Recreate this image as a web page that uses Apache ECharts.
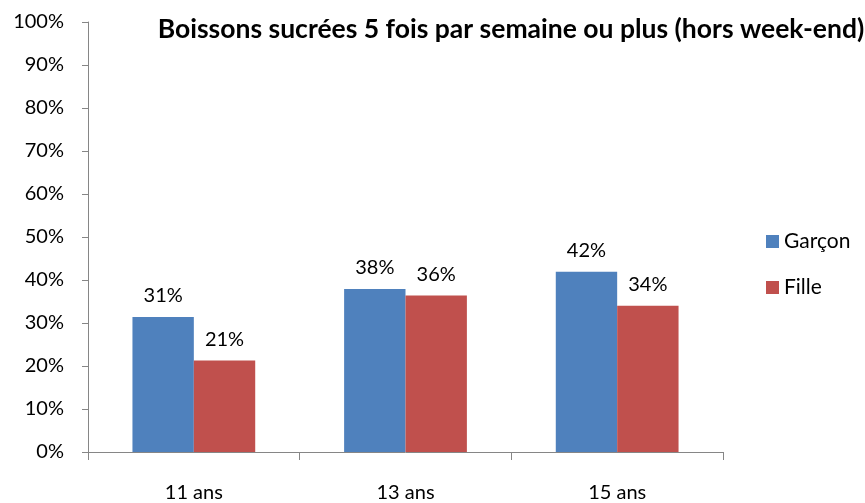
<!DOCTYPE html>
<html><head><meta charset="utf-8">
<script src="https://cdn.jsdelivr.net/npm/echarts@6/dist/echarts.min.js"></script>
<style>html,body{margin:0;padding:0;background:#fff}#c{width:865px;height:503px}</style>
</head><body><div id="c"></div>
<script>
const categories = ['11 ans', '13 ans', '15 ans'];
const garcon = [31.4, 37.9, 41.9];
const fille = [21.3, 36.4, 34.0];
const seriesNames = ['Garçon', 'Fille'];
const titleText = 'Boissons sucrées 5 fois par semaine ou plus (hors week-end)';

const font = 'Lato, "Open Sans", sans-serif';
const chart = echarts.init(document.getElementById('c'));
const lbl = {show: true, position: 'top', distance: 11, color: '#000', fontSize: 20, fontFamily: font,
  formatter: p => Math.round(p.value) + '%'};
chart.setOption({
  animation: false,
  title: {text: titleText, left: 506, top: 11, textAlign: 'center',
    textStyle: {fontSize: 26.5, fontWeight: 'bold', fontFamily: font, color: '#000'}},
  legend: {orient: 'vertical', left: 761, top: 226, itemWidth: 13, itemHeight: 13, itemGap: 25,
    icon: 'rect', textStyle: {fontSize: 21, fontFamily: font, color: '#000'}, data: seriesNames},
  grid: {left: 88, right: 142, top: 22, bottom: 51},
  xAxis: {type: 'category', data: categories,
    axisLine: {lineStyle: {color: '#868686'}},
    axisTick: {show: true, length: 8, lineStyle: {color: '#868686'}},
    axisLabel: {color: '#000', fontSize: 20, fontFamily: font, margin: 31}},
  yAxis: {type: 'value', min: 0, max: 100, interval: 10,
    axisLine: {show: true, lineStyle: {color: '#868686'}},
    axisTick: {show: true, length: 6, lineStyle: {color: '#868686'}},
    splitLine: {show: false},
    axisLabel: {color: '#000', fontSize: 20, fontFamily: font, margin: 24, formatter: '{value}%'}},
  series: [
    {name: seriesNames[0], type: 'bar', data: garcon, barWidth: '29%', barGap: '0%',
      itemStyle: {color: '#4f81bd'}, label: lbl},
    {name: seriesNames[1], type: 'bar', data: fille, barWidth: '29%', barGap: '0%',
      itemStyle: {color: '#c0504d'}, label: lbl}
  ]
});
</script></body></html>
